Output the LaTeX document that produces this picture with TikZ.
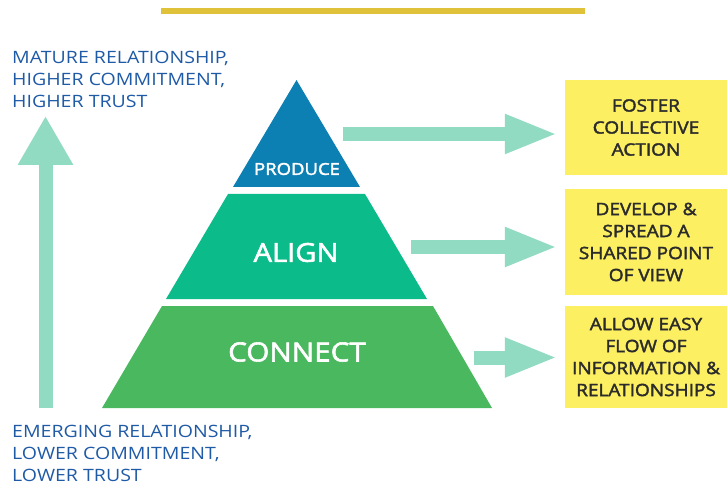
\documentclass[tikz,border=0pt]{standalone}
\usepackage{fontspec}
\setmainfont{Open Sans}[FakeStretch=1.15]
\newfontfamily\semifont{Open Sans}[FakeStretch=1.12, FakeBold=2.2]
\usetikzlibrary{arrows.meta}
\definecolor{barGold}{HTML}{E0C13A}
\definecolor{textBlue}{HTML}{1F5AA6}
\definecolor{tierTop}{HTML}{0C7FB3}
\definecolor{tierMid}{HTML}{0CBB8A}
\definecolor{tierLow}{HTML}{4AB85E}
\definecolor{mint}{HTML}{91DBC2}
\definecolor{noteYellow}{HTML}{FCEF62}
\definecolor{noteText}{HTML}{2B2B2B}
\tikzset{
  tierlabel/.style={text=white, inner sep=0pt},
  sidetext/.style={text=textBlue, align=left, anchor=north west, inner sep=0pt,
    font=\fontsize{17}{22}\selectfont},
  notebox/.style={fill=noteYellow, text=noteText, align=center, inner sep=0pt,
    minimum width=162pt, font=\semifont\fontsize{17}{22}\selectfont},
  fatarrow/.style={draw=mint, line width=14pt,
    -{Triangle[length=53pt,width=36pt]}, shorten >=7pt},
}
\begin{document}
\begin{tikzpicture}[x=1pt,y=-1pt]
\useasboundingbox (0,0) rectangle (727,486);

% gold rule across the top
\fill[barGold] (161,8) rectangle (585,14);

% pyramid tiers
\fill[tierTop] (296.5,80) -- (360,187) -- (233,187) -- cycle;
\fill[tierMid] (228,194) -- (365,194) -- (427,299) -- (166,299) -- cycle;
\fill[tierLow] (162,306) -- (433,306) -- (492,408) -- (102,408) -- cycle;

\node[tierlabel, font=\semifont\fontsize{16.5}{18}\selectfont] (produce) at (297,169) {PRODUCE};
\node[tierlabel, font=\semifont\fontsize{26}{28}\selectfont] (align) at (296,252.5) {ALIGN};
\node[tierlabel, font=\semifont\fontsize{26.5}{28}\selectfont] (connect) at (297,352) {CONNECT};

% outcome boxes
\node[notebox, minimum height=95pt] (foster) at (646,127.5) {FOSTER\\COLLECTIVE\\ACTION};
\node[notebox, minimum height=106pt] (develop) at (646,242) {DEVELOP \&\\SPREAD A\\SHARED POINT\\OF VIEW};
\node[notebox, minimum height=102pt] (allow) at (646,357) {ALLOW EASY\\FLOW OF\\INFORMATION \&\\RELATIONSHIPS};

% arrows from tiers to outcomes
\coordinate (p1) at (343,134);
\coordinate (p2) at (411,247);
\coordinate (p3) at (474,357.5);
\draw[fatarrow] (p1) -- (p1 -| foster.west);
\draw[fatarrow] (p2) -- (p2 -| develop.west);
\draw[fatarrow] (p3) -- (p3 -| allow.west);

% relationship scale
\node[sidetext] (mature) at (12,51) {MATURE RELATIONSHIP,\\HIGHER COMMITMENT,\\HIGHER TRUST};
\node[sidetext] (emerging) at (12,424.5) {EMERGING RELATIONSHIP,\\LOWER COMMITMENT,\\LOWER TRUST};
\coordinate (scalebase) at (45.5,408);
\coordinate (scaletop) at (45.5,116);
\draw[draw=mint, line width=14pt, -{Triangle[length=49pt,width=52pt]}] (scalebase) -- (scaletop);
\end{tikzpicture}
\end{document}
